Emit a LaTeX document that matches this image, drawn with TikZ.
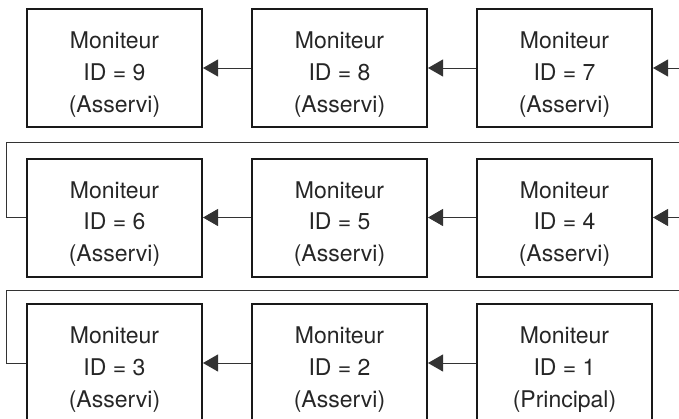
\documentclass[tikz,border=0pt]{standalone}
\usepackage{fontspec}
\setmainfont{TeX Gyre Heros}
\usepackage{tikz}
\usetikzlibrary{arrows.meta}

\begin{document}
\begin{tikzpicture}[x=1pt, y=-1pt,
  monbox/.style = {draw=black!90, line width=2pt, minimum width=175pt,
                   minimum height=118pt, align=center, text=black!85,
                   font=\fontsize{23}{31.7}\selectfont,
                   text height=93pt, text depth=5pt},
  link/.style   = {draw=black!80, line width=0.9pt,
                   -{Triangle[length=15pt, width=17pt]}},
  wire/.style   = {draw=black!80, line width=0.9pt},
]
\useasboundingbox (0,0) rectangle (679,418);

\foreach \id/\cx/\cy/\role in {9/114.5/68/Asservi, 8/339.5/68/Asservi,
    7/564.5/68/Asservi, 6/114.5/217.5/Asservi, 5/339.5/217.5/Asservi,
    4/564.5/217.5/Asservi, 3/114.5/363/Asservi, 2/339.5/363/Asservi,
    1/564.5/363/Principal}{
  \node[monbox] (m\id) at (\cx,\cy) {Moniteur\\ID = \id\\(\role)};
}

% chain inside each row
\draw[link] (m8) -- (m9);
\draw[link] (m7) -- (m8);
\draw[link] (m5) -- (m6);
\draw[link] (m4) -- (m5);
\draw[link] (m2) -- (m3);
\draw[link] (m1) -- (m2);

% entries from the right edge
\coordinate (in7) at (679,68);
\coordinate (in4) at (679,217.5);
\draw[link] (in7) -- (m7);
\draw[link] (in4) -- (m4);

% returns to the right edge
\coordinate (ret6a) at (6,142);
\coordinate (ret6b) at (679,142);
\coordinate (ret3a) at (6,290);
\coordinate (ret3b) at (679,290);
\draw[wire] (m6.west) -| (ret6a) -- (ret6b);
\draw[wire] (m3.west) -| (ret3a) -- (ret3b);

\end{tikzpicture}
\end{document}
